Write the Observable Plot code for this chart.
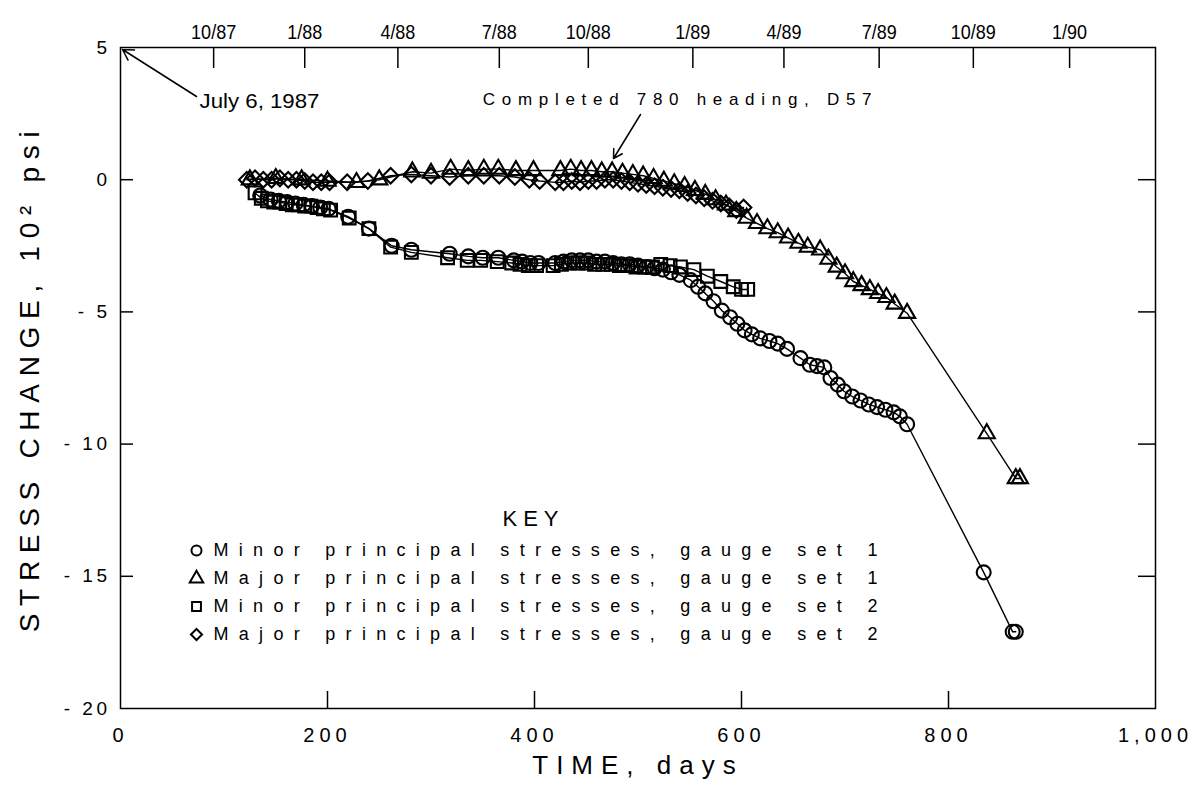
<!DOCTYPE html>
<html>
<head>
<meta charset="utf-8">
<script src="https://cdn.jsdelivr.net/npm/d3@7"></script>
<script src="https://cdn.jsdelivr.net/npm/@observablehq/plot@0.6"></script>
<style>
  body { margin: 0; background: #fff; }
  #chart { position: relative; width: 1197px; height: 786px; }
</style>
</head>
<body>
<div id="chart"></div>
<script>
// ---- Data (day since July 6, 1987 ; stress change in 10^2 psi) ----
const minorSet1 = [[135,-0.6],[145,-0.75],[153,-0.8],[161,-0.85],[169,-0.9],[177,-0.95],[185,-1.0],[193,-1.05],[201,-1.1],[220,-1.4],[240,-1.85],[262,-2.5],[281,-2.65],[318,-2.8],[336,-2.9],[350,-2.95],[365,-2.95],[380,-3.05],[388,-3.1],[396,-3.15],[404,-3.15],[420,-3.15],[428,-3.1],[436,-3.05],[444,-3.05],[452,-3.05],[460,-3.1],[468,-3.1],[476,-3.15],[484,-3.2],[492,-3.2],[500,-3.25],[508,-3.3],[516,-3.35],[524,-3.4],[532,-3.5],[540,-3.6],[551,-3.8],[558,-4.05],[565,-4.3],[573,-4.6],[581,-4.95],[589,-5.2],[596,-5.45],[603,-5.7],[610,-5.85],[618,-6.0],[627,-6.1],[635,-6.2],[644,-6.4],[657,-6.75],[666,-7.0],[673,-7.05],[680,-7.1],[686,-7.5],[693,-7.75],[699,-8.0],[707,-8.2],[715,-8.35],[723,-8.5],[731,-8.6],[739,-8.7],[747,-8.8],[753,-8.95],[760,-9.25],[834,-14.85],[862,-17.1],[865,-17.1]];
const majorSet1 = [[125,0],[150,0.05],[175,0],[200,-0.05],[228,-0.1],[250,0],[282,0.3],[300,0.25],[319,0.4],[336,0.35],[351,0.4],[365,0.4],[382,0.35],[399,0.35],[425,0.35],[435,0.4],[445,0.35],[455,0.35],[465,0.3],[475,0.3],[485,0.25],[495,0.2],[505,0.15],[515,0.05],[525,-0.05],[535,-0.15],[545,-0.25],[555,-0.4],[565,-0.55],[575,-0.75],[585,-0.95],[595,-1.2],[605,-1.45],[615,-1.65],[625,-1.85],[635,-2.0],[645,-2.2],[655,-2.4],[664,-2.55],[676,-2.65],[684,-3.0],[692,-3.3],[700,-3.55],[708,-3.85],[716,-4.0],[724,-4.15],[732,-4.3],[740,-4.45],[748,-4.7],[760,-5.05],[837,-9.6],[865,-11.3],[869,-11.3]];
const minorSet2 = [[130,-0.5],[136,-0.7],[142,-0.8],[148,-0.85],[154,-0.85],[160,-0.9],[166,-0.95],[172,-0.95],[178,-1.0],[184,-1.0],[190,-1.05],[196,-1.1],[203,-1.15],[221,-1.45],[240,-1.85],[261,-2.55],[281,-2.75],[316,-2.95],[335,-3.05],[348,-3.05],[364,-3.1],[378,-3.15],[386,-3.2],[394,-3.25],[402,-3.25],[418,-3.25],[426,-3.2],[434,-3.15],[442,-3.15],[450,-3.15],[458,-3.2],[466,-3.2],[474,-3.2],[482,-3.25],[490,-3.25],[498,-3.3],[506,-3.3],[514,-3.3],[522,-3.2],[531,-3.25],[541,-3.3],[554,-3.4],[567,-3.65],[580,-3.85],[592,-4.05],[600,-4.15],[606,-4.15]];
const majorSet2 = [[122,0],[130,0.05],[138,0],[146,0],[154,0.05],[162,0],[170,0],[178,-0.05],[186,-0.1],[194,-0.1],[202,-0.1],[219,-0.1],[239,-0.05],[261,0.15],[281,0.2],[300,0.15],[318,0.1],[336,0.15],[351,0.15],[366,0.15],[381,0.1],[395,0.0],[405,-0.05],[420,-0.1],[428,-0.1],[436,-0.05],[444,-0.1],[452,-0.05],[460,-0.05],[468,0],[476,0],[484,-0.05],[492,-0.1],[500,-0.15],[508,-0.2],[516,-0.25],[524,-0.3],[532,-0.35],[540,-0.4],[548,-0.5],[556,-0.6],[564,-0.7],[572,-0.8],[580,-0.9],[588,-1.0],[595,-1.15],[602,-1.05]];

const seriesNames = ["Minor principal stresses, gauge set 1","Major principal stresses, gauge set 1","Minor principal stresses, gauge set 2","Major principal stresses, gauge set 2"];
const seriesSymbols = ["circle","triangle","square","diamond2"];
const seriesData = [minorSet1, majorSet1, minorSet2, majorSet2];

const bottomTicks = [0,200,400,600,800,1000];
const bottomInnerTicks = [200,400,600,800];
const topTickDays = [90,178,268,366,452,553,641,733,824,917];
const topTickLabels = ["10/87","1/88","4/88","7/88","10/88","1/89","4/89","7/89","10/89","1/90"];
const yTicks = [5,0,-5,-10,-15,-20];
const yInnerTicks = [0,-5,-10,-15];

// ---- Layout ----
const W = 1197, H = 786, mL = 120, mR = 42, mT = 47, mB = 78;
const xDom = [0, 1000], yDom = [-20, 5];
const xAt = px => xDom[0] + (px - mL) / (W - mL - mR) * (xDom[1] - xDom[0]);
const yAt = py => yDom[1] - (py - mT) / (H - mT - mB) * (yDom[1] - yDom[0]);

const topLabelMap = new Map(topTickDays.map((d, i) => [d, topTickLabels[i]]));
const symbolR = {circle: 7, triangle: 6, square: 7.2, diamond2: 7};

const dataMarks = seriesData.flatMap((s, i) => [
  Plot.line(s, {x: d => d[0], y: d => d[1], stroke: "#000", strokeWidth: 1.4}),
  Plot.dot(s, {x: d => d[0], y: d => d[1], symbol: seriesSymbols[i], r: symbolR[seriesSymbols[i]], fill: "none", stroke: "#000", strokeWidth: 2.1})
]);

const legendRowsPx = [550, 578, 606, 634];
const legendMarks = seriesNames.flatMap((name, i) => [
  Plot.dot([name], {x: xAt(196), y: yAt(legendRowsPx[i]), symbol: seriesSymbols[i], r: 5, fill: "none", stroke: "#000", strokeWidth: 2}),
  Plot.text([name], {x: xAt(213), y: yAt(legendRowsPx[i]), text: d => d, textAnchor: "start", fontSize: 18, ariaDescription: "legend-text"})
]);

const chart = Plot.plot({
  width: W, height: H,
  marginLeft: mL, marginRight: mR, marginTop: mT, marginBottom: mB,
  style: {fontFamily: "'Liberation Sans', Arial, sans-serif", fontSize: "19px", color: "#000", background: "#fff", overflow: "visible"},
  x: {domain: xDom},
  y: {domain: yDom},
  marks: [
    Plot.frame({stroke: "#000", strokeWidth: 1.5}),
    // inward tick marks
    Plot.axisX(bottomInnerTicks, {anchor: "bottom", tickSize: -17, tickFormat: () => "", strokeWidth: 1.5, label: null}),
    Plot.axisX(topTickDays, {anchor: "top", tickSize: -20, tickFormat: () => "", strokeWidth: 1.5, label: null}),
    Plot.axisY(yInnerTicks, {anchor: "left", tickSize: -13, tickFormat: () => "", strokeWidth: 1.5, label: null}),
    Plot.axisY(yInnerTicks, {anchor: "right", tickSize: -18, tickFormat: () => "", strokeWidth: 1.5, label: null}),
    // tick labels
    Plot.axisX(bottomTicks, {anchor: "bottom", tickSize: 0, tickPadding: 19, fontSize: 20, tickFormat: d => d === 1000 ? "1,000" : String(d), label: null}),
    Plot.axisY(yTicks, {anchor: "left", tickSize: 0, tickPadding: 10, fontSize: 19, tickFormat: d => d < 0 ? "- " + (-d) : String(d), label: null}),
    Plot.text(topTickDays, {x: d => d, frameAnchor: "top", dy: -23, text: d => topLabelMap.get(d), fontSize: 20, ariaDescription: "top-labels"}),
    // axis titles
    Plot.text(["TIME, days"], {frameAnchor: "bottom", dy: 65, text: d => d, fontSize: 26, ariaDescription: "x-title"}),
    Plot.text(["STRESS CHANGE, 10² psi"], {frameAnchor: "left", dx: -90, rotate: -90, textAnchor: "middle", text: d => d, fontSize: 28, ariaDescription: "y-title"}),
    // data
    ...dataMarks,
    // annotations
    Plot.arrow([0], {x1: xAt(196), y1: yAt(96), x2: xAt(122), y2: yAt(49), stroke: "#000", strokeWidth: 1.5, headLength: 12}),
    Plot.text(["July 6, 1987"], {x: xAt(199), y: yAt(101), text: d => d, textAnchor: "start", fontSize: 20, ariaDescription: "july"}),
    Plot.arrow([0], {x1: xAt(640), y1: yAt(114), x2: xAt(613), y2: yAt(158), stroke: "#000", strokeWidth: 1.5, headLength: 10}),
    Plot.text(["Completed 780 heading, D57"], {x: xAt(680), y: yAt(99), text: d => d, fontSize: 17, ariaDescription: "completed"}),
    // legend
    Plot.text(["KEY"], {x: xAt(533), y: yAt(518), text: d => d, fontSize: 22, ariaDescription: "key"}),
    ...legendMarks
  ]
});

document.getElementById("chart").appendChild(chart);

const sel = d3.select(chart);
const styleText = (desc, prop, val) => sel.selectAll(`g[aria-description="${desc}"] text`).style(prop, val);
sel.selectAll('g[aria-label="x-axis tick label"] text').style("letter-spacing", "5px");
sel.selectAll('g[aria-label="y-axis tick label"] text').style("letter-spacing", "3.5px");
styleText("x-title", "letter-spacing", "8px");
styleText("y-title", "letter-spacing", "7.7px");
styleText("completed", "letter-spacing", "6.7px");
styleText("key", "letter-spacing", "6px");
styleText("legend-text", "letter-spacing", "10.3px");
// slightly condensed lettering for the date labels
sel.selectAll('g[aria-description="top-labels"] text').each(function() {
  const L = this.getComputedTextLength();
  this.setAttribute("textLength", (L * 0.9).toFixed(1));
  this.setAttribute("lengthAdjust", "spacingAndGlyphs");
});
sel.selectAll('g[aria-description="july"] text').each(function() {
  this.setAttribute("textLength", "120");
  this.setAttribute("lengthAdjust", "spacingAndGlyphs");
});
</script>
</body>
</html>
